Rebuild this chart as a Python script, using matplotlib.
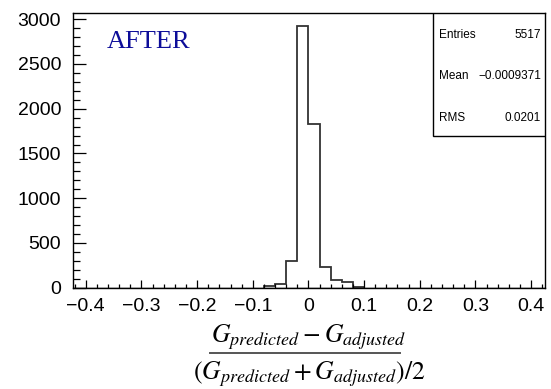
import matplotlib

matplotlib.use("Agg")
import matplotlib.pyplot as plt
import numpy as np
from matplotlib.lines import Line2D
from matplotlib.patches import Rectangle
from matplotlib.ticker import MultipleLocator

# histogram (bin width 0.02)
bin_edges = [-0.08, -0.06, -0.04, -0.02, 0.00, 0.02, 0.04, 0.06, 0.08, 0.10]
bin_counts = [15, 40, 295, 2920, 1827, 228, 86, 67, 13]

stats_labels = ["Entries", "Mean", "RMS"]
stats_values = ["5517", "\u22120.0009371", "0.0201"]

x_major = [-0.4, -0.3, -0.2, -0.1, 0.0, 0.1, 0.2, 0.3, 0.4]
x_ticklabels = ["\u22120.4", "\u22120.3", "\u22120.2", "\u22120.1", "0", "0.1", "0.2", "0.3", "0.4"]

plt.rcParams["font.family"] = ["Liberation Sans", "DejaVu Sans"]
plt.rcParams["mathtext.fontset"] = "stix"

fig = plt.figure(figsize=(5.51, 3.89), dpi=100, facecolor="white")
ax = fig.add_axes([0.1325, 0.2604, 0.8565, 0.7054])

ax.stairs(bin_counts, bin_edges, color="#333333", linewidth=1.3, baseline=0)
ax.axhline(0, color="black", linewidth=1.0)

ax.set_xlim(-0.423, 0.425)
ax.set_ylim(0, 1.05 * max(bin_counts))

ax.set_xticks(x_major)
ax.set_xticklabels(x_ticklabels)
ax.xaxis.set_minor_locator(MultipleLocator(0.02))
ax.yaxis.set_major_locator(MultipleLocator(500))
ax.yaxis.set_minor_locator(MultipleLocator(100))

ax.tick_params(axis="both", which="both", direction="in", labelsize=14, colors="black")
ax.tick_params(axis="x", which="major", length=5.8, width=0.9, pad=7.5)
ax.tick_params(axis="x", which="minor", length=2.9, width=0.9)
ax.tick_params(axis="y", which="major", length=9.4, width=0.9, pad=8.5)
ax.tick_params(axis="y", which="minor", length=5.0, width=0.9)
for sp in ax.spines.values():
    sp.set_linewidth(1.0)
    sp.set_color("black")

ax.text(0.072, 0.8735, "AFTER", transform=ax.transAxes, fontsize=19,
        family="Liberation Serif", color="#0d0d99", ha="left", va="baseline")

# stats box
ax.add_patch(Rectangle((0.7627, 0.5528), 1 - 0.7627, 1 - 0.5528, transform=ax.transAxes,
                       facecolor="white", edgecolor="black", linewidth=1.0, zorder=5))
for i, (lab, val) in enumerate(zip(stats_labels, stats_values)):
    y = 0.921 - i * 0.151
    ax.text(0.775, y, lab, transform=ax.transAxes, fontsize=8.5, ha="left", va="center", zorder=6)
    ax.text(0.9915, y, val, transform=ax.transAxes, fontsize=8.5, ha="right", va="center", zorder=6)

# x-axis title as a stacked fraction
fig.text(309 / 551, 1 - 342 / 389, r"$G_{predicted}-G_{adjusted}$",
         fontsize=18.5, ha="center", va="baseline")
fig.add_artist(Line2D([210 / 551, 400 / 551], [1 - 353 / 389, 1 - 353 / 389],
                      color="#555555", linewidth=1.4, transform=fig.transFigure))
fig.text(309 / 551, 1 - 379 / 389, r"$(G_{predicted}+G_{adjusted})/2$",
         fontsize=18.5, ha="center", va="baseline")

fig.savefig("out.png", dpi=100, facecolor="white")
